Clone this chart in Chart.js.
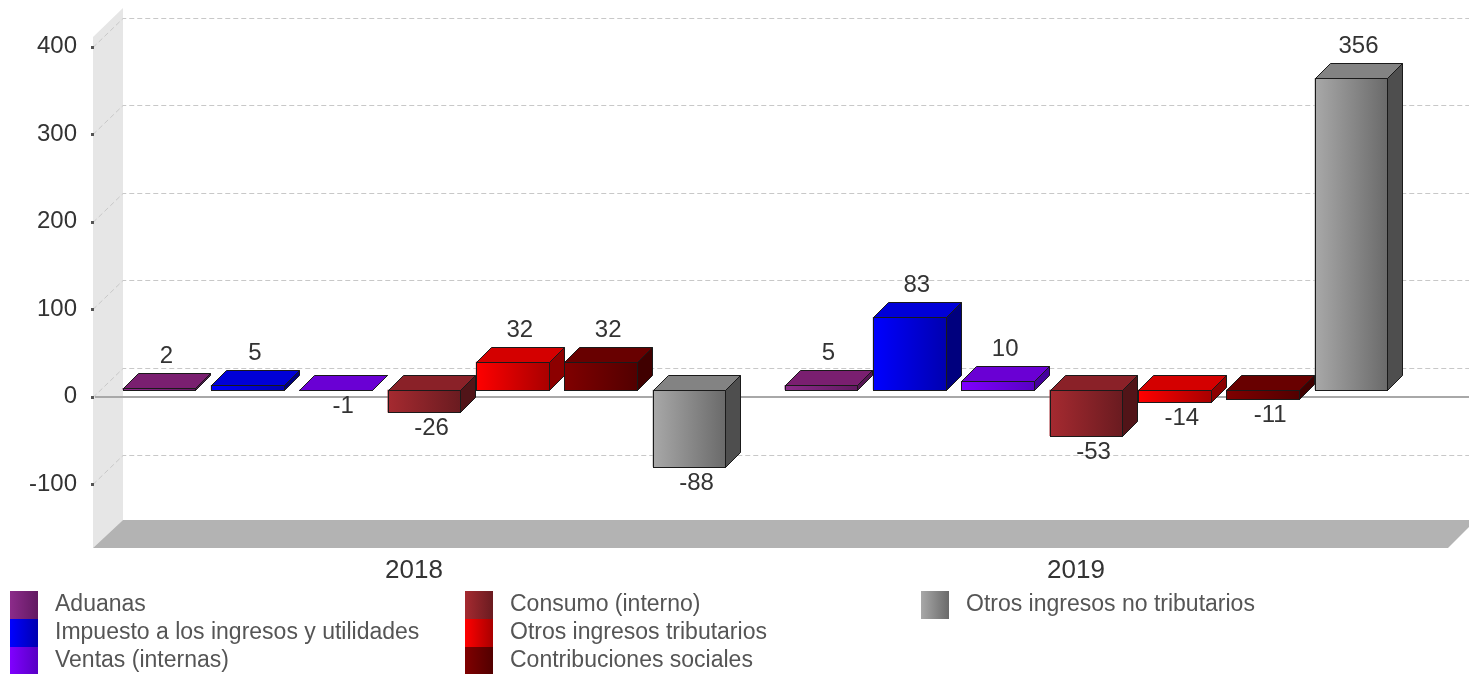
<!DOCTYPE html>
<html><head><meta charset="utf-8">
<script src="https://cdn.jsdelivr.net/npm/chart.js@4.4.1/dist/chart.umd.min.js"></script>
<style>html,body{margin:0;padding:0;background:#fff;}canvas{display:block;}</style>
</head><body>
<canvas id="c" width="1469" height="674" style="width:1469px;height:674px"></canvas>
<script>
// ---------- data ----------
const categories = ['2018', '2019'];
const seriesNames = ['Aduanas', 'Impuesto a los ingresos y utilidades', 'Ventas (internas)',
  'Consumo (interno)', 'Otros ingresos tributarios', 'Contribuciones sociales', 'Otros ingresos no tributarios'];
const aduanas = [2, 5];
const impuesto = [5, 83];
const ventas = [-1, 10];
const consumo = [-26, -53];
const otrosTributarios = [32, -14];
const contribuciones = [32, -11];
const otrosNoTributarios = [-88, 356];
const yTickValues = [-100, 0, 100, 200, 300, 400];

const seriesValues = [aduanas, impuesto, ventas, consumo, otrosTributarios, contribuciones, otrosNoTributarios];

// ---------- styles ----------
const faceLight = ['#8c2b8a', '#0000ff', '#8000ff', '#a52a30', '#ff0000', '#800000', '#a8a8a8'];
const faceDark  = ['#621a62', '#0000b0', '#5800c4', '#6a1b20', '#a80000', '#520000', '#6a6a6a'];
const topColor  = ['#7a1f70', '#0000d8', '#6a00d4', '#8a2128', '#d40000', '#680000', '#838383'];
const sideColor = ['#551553', '#00007e', '#44009c', '#511418', '#8c0000', '#400000', '#4e4e4e'];

const FONT = "'Liberation Sans', Arial, sans-serif";
const BAR_SHIFT = 7;   // bars sit slightly behind the front plane
const BAR_DEPTH = 15;  // depth of each bar
const WALL_DEPTH = 30; // depth of the box (x)
const WALL_DEPTH_Y = 29;

Chart.defaults.font.family = FONT;

const threeD = {
  id: 'threeD',
  beforeDatasetsDraw(chart) {
    const { ctx, chartArea: ca, scales: { y } } = chart;
    const W = chart.width;
    const fx = ca.left + 7;
    const bx = fx + WALL_DEPTH;
    const floorRight = ca.right + 38;
    ctx.save();
    // left wall
    ctx.fillStyle = '#e6e6e6';
    ctx.beginPath();
    ctx.moveTo(fx, ca.top);
    ctx.lineTo(bx, ca.top - WALL_DEPTH_Y);
    ctx.lineTo(bx, ca.bottom - 28);
    ctx.lineTo(fx, ca.bottom);
    ctx.closePath();
    ctx.fill();
    // floor
    ctx.fillStyle = '#b3b3b3';
    ctx.beginPath();
    ctx.moveTo(fx, ca.bottom);
    ctx.lineTo(floorRight, ca.bottom);
    ctx.lineTo(floorRight + 28, ca.bottom - 28);
    ctx.lineTo(bx, ca.bottom - 28);
    ctx.closePath();
    ctx.fill();
    // gridlines
    ctx.strokeStyle = '#c8c8c8';
    ctx.lineWidth = 1;
    ctx.setLineDash([5, 3]);
    yTickValues.forEach(v => {
      const yf = Math.round(y.getPixelForValue(v)) + 0.5;
      const yb = yf - WALL_DEPTH_Y;
      ctx.beginPath();
      ctx.moveTo(fx, yf);
      ctx.lineTo(bx, yb);
      ctx.lineTo(W, yb);
      ctx.stroke();
    });
    ctx.setLineDash([]);
    // zero line
    const y0 = Math.round(y.getPixelForValue(0));
    ctx.strokeStyle = '#a8a8a8';
    ctx.lineWidth = 2;
    ctx.beginPath();
    ctx.moveTo(fx + 2, y0);
    ctx.lineTo(W, y0);
    ctx.stroke();
    // tick marks
    ctx.fillStyle = '#555';
    yTickValues.forEach(v => {
      const yf = Math.round(y.getPixelForValue(v));
      ctx.fillRect(fx - 2, yf - 1, 3, 3);
    });
    ctx.restore();
    ctx.save();
    ctx.translate(BAR_SHIFT, -BAR_SHIFT);
  },
  afterDatasetsDraw(chart) {
    const { ctx } = chart;
    const d = BAR_DEPTH;
    chart.data.datasets.forEach((ds, i) => {
      const meta = chart.getDatasetMeta(i);
      meta.data.forEach((el, j) => {
        const p = el.getProps(['x', 'y', 'base', 'width'], true);
        const left = Math.round(p.x - p.width / 2) + 0.5;
        const right = Math.round(p.x + p.width / 2) + 0.5;
        const top = Math.round(Math.min(p.y, p.base)) + 0.5;
        const bottom = Math.round(Math.max(p.y, p.base)) + 0.5;
        ctx.lineWidth = 1;
        ctx.strokeStyle = '#1a1a1a';
        ctx.lineJoin = 'miter';
        // front
        const g = ctx.createLinearGradient(left, 0, right, 0);
        g.addColorStop(0, faceLight[i]);
        g.addColorStop(1, faceDark[i]);
        ctx.fillStyle = g;
        ctx.fillRect(left, top, right - left, bottom - top);
        ctx.strokeRect(left, top, right - left, bottom - top);
        // top
        ctx.fillStyle = topColor[i];
        ctx.beginPath();
        ctx.moveTo(left, top);
        ctx.lineTo(left + d, top - d);
        ctx.lineTo(right + d, top - d);
        ctx.lineTo(right, top);
        ctx.closePath();
        ctx.fill();
        ctx.stroke();
        // side
        ctx.fillStyle = sideColor[i];
        ctx.beginPath();
        ctx.moveTo(right, top);
        ctx.lineTo(right + d, top - d);
        ctx.lineTo(right + d, bottom - d);
        ctx.lineTo(right, bottom);
        ctx.closePath();
        ctx.fill();
        ctx.stroke();
        // value label
        const v = seriesValues[i][j];
        ctx.fillStyle = '#333';
        ctx.font = '24px ' + FONT;
        ctx.textAlign = 'center';
        ctx.textBaseline = 'middle';
        if (v >= 0) ctx.fillText(String(v), p.x + d / 2, top - d - 17);
        else ctx.fillText(String(v), p.x + d / 2, bottom + 16);
      });
    });
    ctx.restore();
  },
  afterDraw(chart) {
    const { ctx } = chart;
    const colX = [10, 465, 921];
    const rowTop = 591, rowH = 28, sw = 28;
    ctx.save();
    ctx.font = '23px ' + FONT;
    ctx.textBaseline = 'middle';
    ctx.textAlign = 'left';
    seriesNames.forEach((name, i) => {
      const c = Math.floor(i / 3), r = i % 3;
      const x = colX[c], yy = rowTop + r * rowH;
      const g = ctx.createLinearGradient(x, 0, x + sw, 0);
      g.addColorStop(0, faceLight[i]);
      g.addColorStop(1, faceDark[i]);
      ctx.fillStyle = g;
      ctx.fillRect(x, yy, sw, rowH);
      ctx.fillStyle = '#555';
      ctx.fillText(name, x + 45, yy + rowH / 2);
    });
    ctx.restore();
  }
};

new Chart(document.getElementById('c'), {
  type: 'bar',
  data: {
    labels: categories,
    datasets: seriesNames.map((n, i) => ({
      label: n,
      data: seriesValues[i],
      backgroundColor: faceLight[i],
      borderWidth: 0,
      categoryPercentage: 0.934,
      barPercentage: 0.826
    }))
  },
  options: {
    responsive: false,
    animation: false,
    devicePixelRatio: 1,
    layout: { padding: { top: 37, right: 59, bottom: 0, left: 0 } },
    plugins: { legend: { display: false }, tooltip: { enabled: false } },
    scales: {
      x: {
        grid: { display: false, drawTicks: false }, border: { display: false },
        ticks: { color: '#333', font: { size: 26 }, padding: 7, labelOffset: -3 },
        afterFit(s) { s.height = 126; }
      },
      y: {
        min: -173, max: 411,
        grid: { display: false, drawTicks: false }, border: { display: false },
        ticks: { color: '#333', font: { size: 24 }, padding: 9 },
        afterBuildTicks(s) { s.ticks = yTickValues.map(v => ({ value: v })); },
        afterFit(s) { s.width = 86; }
      }
    }
  },
  plugins: [threeD]
});
</script>
</body></html>
